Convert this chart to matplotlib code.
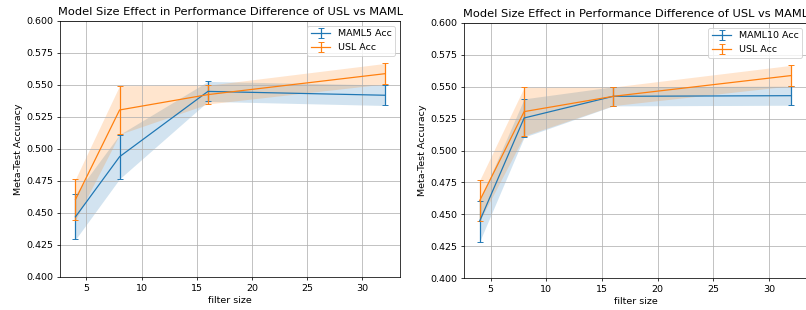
import matplotlib

matplotlib.use("Agg")
import matplotlib.pyplot as plt
import numpy as np

# filter sizes on the x axis
FILTERS = [4, 8, 16, 32]

# left panel: MAML5 vs USL
MAML5_MEAN = [0.447, 0.494, 0.545, 0.542]
MAML5_STD = [0.0177, 0.0173, 0.0078, 0.0080]

# right panel: MAML10 vs USL
MAML10_MEAN = [0.4445, 0.5255, 0.5425, 0.543]
MAML10_STD = [0.0160, 0.0150, 0.0075, 0.0075]

# USL is the same run in both panels
USL_MEAN = [0.4605, 0.5305, 0.5425, 0.5588]
USL_STD = [0.0160, 0.0190, 0.0073, 0.0080]

TITLE = "Model Size Effect in Performance Difference of USL vs MAML"

# the reference looks like a default matplotlib figure shrunk down,
# so render at a low dpi with a larger figsize to keep the proportions
DPI = 68
W, H = 806, 310


def panel(ax, maml_mean, maml_std, maml_label):
    x = np.array(FILTERS)
    for mean, std, label, color in [
        (maml_mean, maml_std, maml_label, "C0"),
        (USL_MEAN, USL_STD, "USL Acc", "C1"),
    ]:
        mean = np.array(mean)
        std = np.array(std)
        ax.errorbar(x, mean, yerr=std, label=label, color=color, capsize=3, linewidth=1.3)
        ax.fill_between(x, mean - std, mean + std, color=color, alpha=0.2, linewidth=0)
    ax.set_ylim(0.4, 0.6)
    ax.set_title(TITLE)
    ax.set_xlabel("filter size")
    ax.set_ylabel("Meta-Test Accuracy")
    ax.legend(loc="upper right")
    ax.grid(True)


fig = plt.figure(figsize=(W / DPI, H / DPI), dpi=DPI)
ax1 = fig.add_axes([60 / W, (H - 277) / H, 340 / W, 256 / H])
# the right panel runs off the edge of the reference image, title included
ax2 = fig.add_axes([464 / W, (H - 278) / H, 343 / W, 255 / H])

panel(ax1, MAML5_MEAN, MAML5_STD, "MAML5 Acc")
panel(ax2, MAML10_MEAN, MAML10_STD, "MAML10 Acc")

fig.savefig("out.png", dpi=DPI)
